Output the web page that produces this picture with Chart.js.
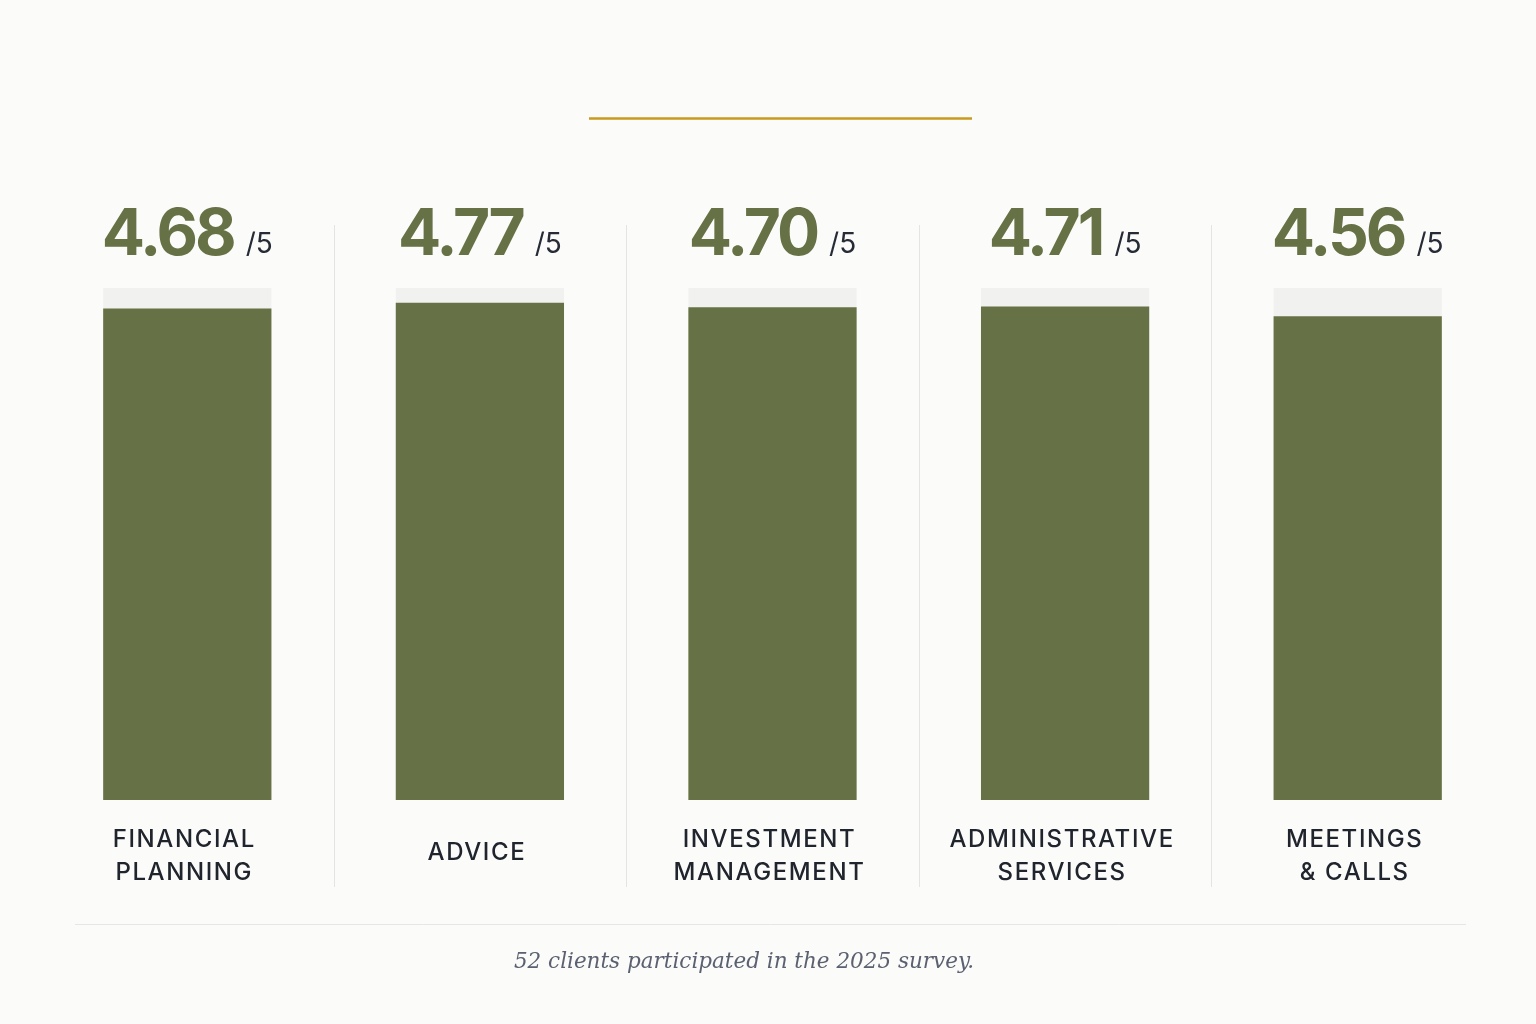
<!DOCTYPE html>
<html>
<head>
<meta charset="utf-8">
<script src="https://cdn.jsdelivr.net/npm/chart.js@4/dist/chart.umd.min.js"></script>
<style>
html,body{margin:0;padding:0;background:#fbfbfa;}
#wrap{position:relative;width:1536px;height:1024px;}
</style>
</head>
<body>
<div id="wrap"><canvas id="surveyChart" width="1536" height="1024"></canvas></div>
<script>

// ===== data =====
let categories = [
["FINANCIAL","PLANNING"],
["ADVICE"],
["INVESTMENT","MANAGEMENT"],
["ADMINISTRATIVE","SERVICES"],
["MEETINGS","& CALLS"]
]
let scores = [4.68,4.77,4.70,4.71,4.56]
let maxScore = [5,5,5,5,5]
let footerText = "52 clients participated in the 2025 survey."

let green = "#667245"
let track = "#f1f1ef"
let yMin = -3

// ===== overlay: labels, separators, rules =====
let overlay = {
id:"overlay",
afterDraw(chart){
let ctx = chart.ctx
let x = chart.scales.x
let bars = chart.getDatasetMeta(0).data

ctx.save()

// gold rule on top
ctx.strokeStyle = "#c89b1e"
ctx.lineWidth = 2.5
ctx.beginPath()
ctx.moveTo(589,118.5)
ctx.lineTo(972,118.5)
ctx.stroke()

// column separators
ctx.strokeStyle = "#e4e4e2"
ctx.lineWidth = 1
for(let i=1;i<categories.length;i++){
let sx = Math.round((x.getPixelForValue(i-1)+x.getPixelForValue(i))/2)+0.5
ctx.beginPath()
ctx.moveTo(sx,225)
ctx.lineTo(sx,887)
ctx.stroke()
}

// bottom rule
ctx.strokeStyle = "#e6e6e4"
ctx.beginPath()
ctx.moveTo(75,924.5)
ctx.lineTo(1466,924.5)
ctx.stroke()

// value labels
bars.forEach((b,i)=>{
let big = scores[i].toFixed(2)
let small = "/5"
ctx.font = "bold 64px Inter"
ctx.letterSpacing = "-3px"
let w1 = ctx.measureText(big).width
ctx.letterSpacing = "0px"
ctx.font = "28px Inter"
let w2 = ctx.measureText(small).width
let gap = 12
let start = b.x - (w1+gap+w2)/2
ctx.textAlign = "left"
ctx.textBaseline = "alphabetic"
ctx.fillStyle = green
ctx.font = "bold 64px Inter"
ctx.letterSpacing = "-3px"
ctx.fillText(big,start,255)
ctx.letterSpacing = "0px"
ctx.fillStyle = "#262b35"
ctx.font = "28px Inter"
ctx.fillText(small,start+w1+gap,253)
})

// category labels
ctx.fillStyle = "#20242c"
ctx.font = "500 24px Inter"
ctx.letterSpacing = "1.6px"
ctx.textAlign = "center"
ctx.textBaseline = "middle"
bars.forEach((b,i)=>{
let lines = categories[i]
let y0 = lines.length==1 ? 853 : 840
lines.forEach((t,j)=>{
ctx.fillText(t,b.x-3,y0+j*33)
})
})
ctx.letterSpacing = "0px"

// footer
ctx.fillStyle = "#5b6170"
ctx.font = "italic 21.5px 'DejaVu Serif'"
ctx.textAlign = "center"
ctx.fillText(footerText,744,962)

ctx.restore()
}
}

let ctx = document.getElementById("surveyChart").getContext("2d")

new Chart(ctx,{
type:"bar",
data:{
labels:categories.map(c=>c.join(" ")),
datasets:[
{
label:"Score",
data:scores,
base:yMin,
backgroundColor:green,
grouped:false,
order:0,
barPercentage:0.575,
categoryPercentage:1
},
{
label:"Out of 5",
data:maxScore,
base:yMin,
backgroundColor:track,
grouped:false,
order:1,
barPercentage:0.575,
categoryPercentage:1
}
]
},
options:{
responsive:false,
animation:false,
layout:{padding:{left:41,right:32,top:288,bottom:224}},
plugins:{legend:{display:false},tooltip:{enabled:false}},
scales:{
x:{display:false},
y:{display:false,min:yMin,max:5}
}
},
plugins:[overlay]
})

</script>
</body>
</html>
